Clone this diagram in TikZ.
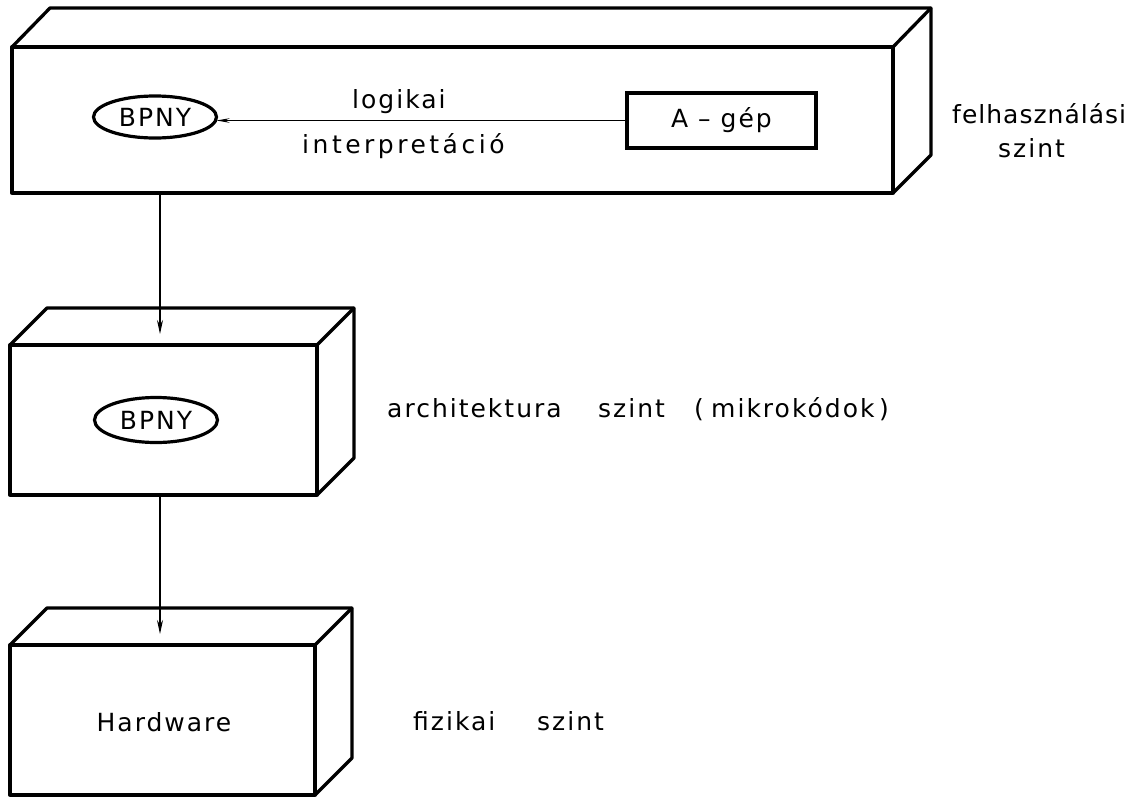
\documentclass[tikz,border=0pt]{standalone}
\usepackage{fontspec}
\setmainfont{DejaVu Sans}[LetterSpace=8]
\newfontfamily\widefont{DejaVu Sans}[LetterSpace=14]
\newfontfamily\narrowfont{DejaVu Sans}[LetterSpace=4]
\usetikzlibrary{shapes.geometric,arrows.meta}
\begin{document}
\begin{tikzpicture}[x=1pt,y=-1pt,
  face/.style={draw,line width=3.3pt,line join=round,minimum width=#1,inner sep=0,outer sep=0},
  edge/.style={line width=3.3pt,line join=round,line cap=round},
  oval/.style={draw,ellipse,line width=3.2pt,minimum width=123pt,minimum height=42pt,inner sep=0,outer sep=0},
  gepbox/.style={draw,rectangle,line width=3.2pt,minimum width=189pt,minimum height=55pt,inner sep=0,outer sep=0},
  lbl/.style={inner sep=0,anchor=base west},
  arr/.style={line width=1.2pt,-{Stealth[length=14pt,width=6pt]}},
  thin/.style={line width=1.2pt},
  every node/.style={font=\fontsize{25}{29}\selectfont}]
\useasboundingbox (0,0) rectangle (1136,798);
% top box
\node[face=881pt,minimum height=146pt] (top) at (452.5,120) {};
\draw[edge] (top.north west) -- ++(38,-39) -- ++(881,0) -- ([xshift=38pt,yshift=38pt]top.south east) -- (top.south east);
\draw[edge] (top.north east) -- ++(38,-39);
% middle box
\node[face=307pt,minimum height=150pt] (mid) at (163.5,420) {};
\draw[edge] (mid.north west) -- ++(37,-37) -- ++(307,0) -- ([xshift=37pt,yshift=37pt]mid.south east) -- (mid.south east);
\draw[edge] (mid.north east) -- ++(37,-37);
% bottom box
\node[face=305pt,minimum height=150pt] (bot) at (162.5,720) {};
\draw[edge] (bot.north west) -- ++(37,-37) -- ++(305,0) -- ([xshift=37pt,yshift=37pt]bot.south east) -- (bot.south east);
\draw[edge] (bot.north east) -- ++(37,-37);
% inner nodes
\node[oval] (bp1) at (155,117) {BPNY};
\node[oval,minimum height=45pt] (bp2) at (156,420) {BPNY};
\node[gepbox] (gep) at (721.5,120.5) {A – gép};
\node at (164,722) (hw) {Hardware};
% connectors
\draw[thin,-{Stealth[length=13pt,width=4.5pt]}] (gep.west) -- (gep.west -| bp1.east);
\coordinate (a1) at (160,334);
\coordinate (a2) at (160,634);
\draw[arr] (top.south -| a1) -- (a1);
\draw[arr] (mid.south -| a2) -- (a2);
% labels
\node[lbl] (l1) at (352,108) {logikai};
\node[lbl,font=\fontsize{25}{29}\widefont] (l2) at (302,153) {interpretáció};
\node[lbl,font=\fontsize{25}{29}\narrowfont] (u1) at (952,123) {felhasználási};
\node[lbl] (u2) at (998,157) {szint};
\node[lbl] (ar1) at (387,417) {architektura};
\node[lbl] (ar2) at (598,417) {szint};
\node[lbl] (ar3) at (694,417) {(};
\node[lbl] (ar4) at (711,417) {mikrokódok};
\node[lbl] (ar5) at (879,417) {)};
\node[lbl] (fz1) at (413,730) {fizikai};
\node[lbl] (fz2) at (537,730) {szint};
\end{tikzpicture}
\end{document}
